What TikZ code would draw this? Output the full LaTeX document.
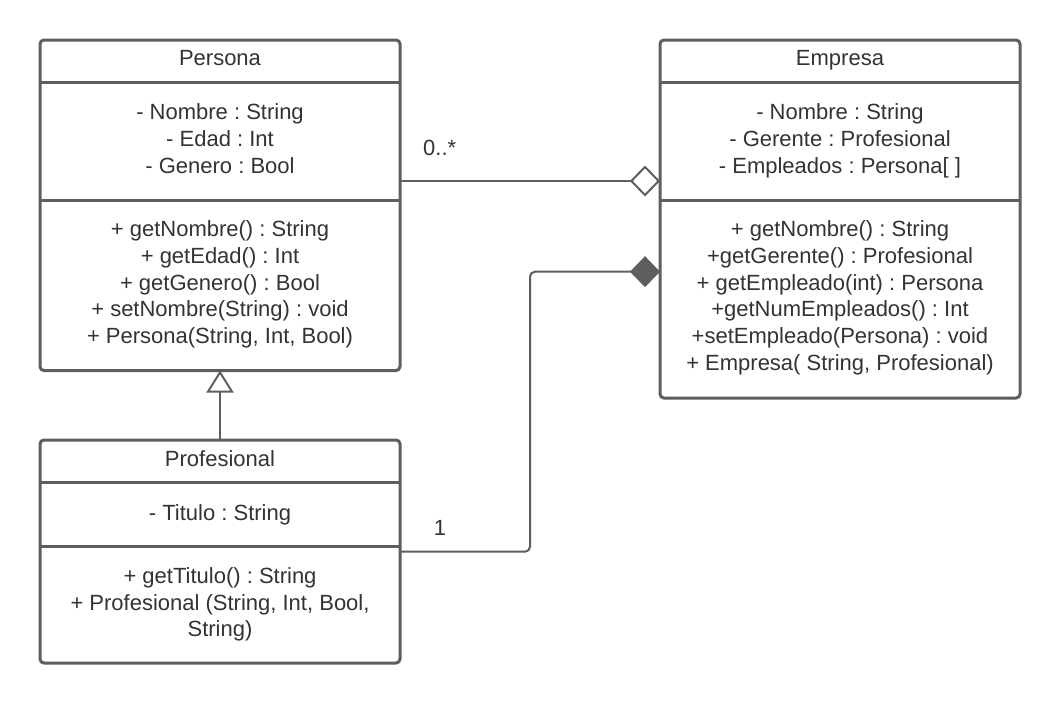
\documentclass[tikz,border=0pt]{standalone}
\usepackage{fontspec}
\setmainfont{Liberation Sans}
\usetikzlibrary{arrows.meta}
\definecolor{linec}{HTML}{5E5E5E}
\definecolor{textc}{HTML}{333333}
\frenchspacing
\begin{document}
\begin{tikzpicture}[x=1pt,y=-1pt,
  classbox/.style={draw=linec, line width=3pt, rounded corners=4pt, minimum width=360pt, inner sep=0pt, outer sep=0pt, anchor=north west, fill=white},
  txt/.style={text=textc, font=\fontsize{22}{26.67}\selectfont\frenchspacing, anchor=base, inner sep=0pt},
  divider/.style={draw=linec, line width=3pt},
  conn/.style={draw=linec, line width=2pt},
]
\useasboundingbox[fill=white] (0,0) rectangle (1060,704);

% class boxes
\node[classbox, minimum height=330.5pt] (persona) at (40,40) {};
\node[classbox, minimum height=358pt] (empresa) at (660,40) {};
\node[classbox, minimum height=223pt] (profesional) at (40,440) {};

% dividers
\coordinate (d1) at (0,82.5);
\coordinate (d2) at (0,200.5);
\coordinate (d3) at (0,482.5);
\coordinate (d4) at (0,546);
\draw[divider] (persona.west |- d1) -- (persona.east |- d1);
\draw[divider] (persona.west |- d2) -- (persona.east |- d2);
\draw[divider] (empresa.west |- d1) -- (empresa.east |- d1);
\draw[divider] (empresa.west |- d2) -- (empresa.east |- d2);
\draw[divider] (profesional.west |- d3) -- (profesional.east |- d3);
\draw[divider] (profesional.west |- d4) -- (profesional.east |- d4);

% Persona texts
\node[txt] (persona-t) at (220,65.7) {Persona};
\foreach \t [count=\i] in {- Nombre : String, - Edad : Int, - Genero : Bool}
  \node[txt] (persona-a\i) at (220,{119.3+27*(\i-1)}) {\t};
\foreach \t [count=\i] in {+ getNombre() : String, + getEdad() : Int, + getGenero() : Bool, + setNombre(String) : void, {+ Persona(String, Int, Bool)}}
  \node[txt] (persona-m\i) at (220,{236.7+26.67*(\i-1)}) {\t};

% Empresa texts
\node[txt] (empresa-t) at (840,65.7) {Empresa};
\foreach \t [count=\i] in {- Nombre : String, - Gerente : Profesional, - Empleados : Persona[ ]}
  \node[txt] (empresa-a\i) at (840,{119.3+27*(\i-1)}) {\t};
\foreach \t [count=\i] in {+ getNombre() : String, +getGerente() : Profesional, + getEmpleado(int) : Persona, +getNumEmpleados() : Int, +setEmpleado(Persona) : void, {+ Empresa( String, Profesional)}}
  \node[txt] (empresa-m\i) at (840,{236.7+26.67*(\i-1)}) {\t};

% Profesional texts
\node[txt] (prof-t) at (220,466) {Profesional};
\node[txt] (prof-a1) at (220,520) {- Titulo : String};
\node[txt] (prof-m1) at (220,583.3) {+ getTitulo() : String};
\node[txt] (prof-m2) at (220,610) {+ Profesional (String, Int, Bool,};
\node[txt] (prof-m3) at (220,636.7) {String)};

% multiplicities
\node[txt, anchor=base west] (mult-agg) at (423,155) {0..*};
\node[txt] (mult-comp) at (440,535) {1};

% connectors
\coordinate (aggy) at (0,181);
\draw[conn, -{Diamond[open, length=30pt, width=31pt]}] (persona.east |- aggy) -- (empresa.west |- aggy);

\coordinate (cy1) at (0,551.7);
\coordinate (cy2) at (0,271.7);
\coordinate (cx) at (530,0);
\draw[conn, rounded corners=5pt, -{Diamond[length=30pt, width=31pt]}] (profesional.east |- cy1) -- (cx |- cy1) -- (cx |- cy2) -- (empresa.west |- cy2);

\draw[conn, -{Triangle[open, length=22pt, width=27pt]}] (profesional.north) -- (persona.south);
\end{tikzpicture}
\end{document}
